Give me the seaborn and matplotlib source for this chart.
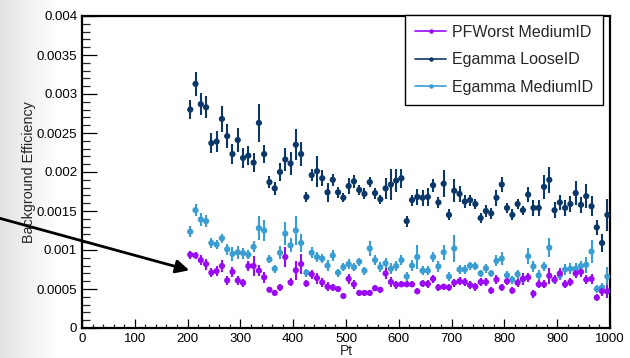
import numpy as np
import pandas as pd
import matplotlib
matplotlib.use("Agg")
import matplotlib.pyplot as plt
import seaborn as sns
from matplotlib.lines import Line2D
from matplotlib.patches import FancyArrowPatch
from matplotlib.ticker import FixedLocator, MultipleLocator, FuncFormatter

# ---------------- data (values in units of 1e-3) ----------------
pt_centers = np.arange(205, 1000, 10)

series_names = ["PFWorst MediumID", "Egamma LooseID", "Egamma MediumID"]

loose_id = [2.80, 3.13, 2.87, 2.83, 2.37, 2.39, 2.68, 2.46, 2.23, 2.41,
            2.18, 2.21, 2.12, 2.63, 2.23, 1.87, 1.79, 2.00, 2.16, 2.11,
            2.35, 2.23, 1.68, 1.96, 2.01, 1.92, 1.74, 1.90, 1.74, 1.67,
            1.82, 1.88, 1.77, 1.72, 1.87, 1.73, 1.65, 1.79, 1.84, 1.89,
            1.92, 1.37, 1.64, 1.68, 1.67, 1.68, 1.83, 1.61, 1.85, 1.45,
            1.76, 1.72, 1.62, 1.64, 1.59, 1.41, 1.50, 1.47, 1.67, 1.84,
            1.54, 1.45, 1.59, 1.51, 1.71, 1.54, 1.54, 1.81, 1.90, 1.51,
            1.61, 1.54, 1.59, 1.73, 1.58, 1.69, 1.56, 1.29, 1.09, 1.45]
loose_err = [0.12, 0.15, 0.14, 0.14, 0.13, 0.13, 0.17, 0.15, 0.13, 0.15,
             0.13, 0.12, 0.12, 0.24, 0.12, 0.08, 0.08, 0.12, 0.15, 0.15,
             0.20, 0.15, 0.06, 0.08, 0.20, 0.10, 0.12, 0.08, 0.07, 0.06,
             0.10, 0.08, 0.06, 0.07, 0.06, 0.07, 0.06, 0.13, 0.20, 0.15,
             0.12, 0.07, 0.07, 0.10, 0.10, 0.12, 0.08, 0.07, 0.17, 0.07,
             0.15, 0.10, 0.08, 0.07, 0.06, 0.07, 0.08, 0.07, 0.10, 0.10,
             0.06, 0.07, 0.06, 0.06, 0.10, 0.10, 0.10, 0.15, 0.17, 0.10,
             0.10, 0.10, 0.10, 0.15, 0.10, 0.15, 0.13, 0.10, 0.12, 0.20]

medium_id = [1.235, 1.51, 1.39, 1.37, 1.09, 1.07, 1.15, 1.01, 0.95, 0.97,
             0.96, 0.94, 1.04, 1.28, 1.25, 0.88, 0.76, 0.965, 1.21, 1.06,
             1.25, 1.09, 0.71, 0.965, 0.91, 0.89, 0.80, 0.93, 0.71, 0.78,
             0.82, 0.78, 0.85, 0.735, 1.02, 0.87, 0.78, 0.83, 0.76, 0.795,
             0.87, 0.66, 0.80, 0.91, 0.735, 0.735, 0.91, 0.79, 0.97, 0.66,
             1.02, 0.75, 0.75, 0.80, 0.79, 0.70, 0.765, 0.70, 0.86, 0.89,
             0.675, 0.62, 0.69, 0.62, 0.92, 0.79, 0.675, 0.79, 1.03, 0.615,
             0.675, 0.75, 0.76, 0.76, 0.795, 0.81, 0.98, 0.50, 0.52, 0.66]
medium_err = [0.07, 0.08, 0.08, 0.08, 0.07, 0.06, 0.06, 0.07, 0.09, 0.08,
              0.07, 0.06, 0.07, 0.15, 0.13, 0.05, 0.05, 0.08, 0.15, 0.09,
              0.18, 0.12, 0.05, 0.07, 0.07, 0.06, 0.07, 0.07, 0.05, 0.05,
              0.06, 0.05, 0.05, 0.05, 0.10, 0.06, 0.06, 0.07, 0.07, 0.07,
              0.06, 0.06, 0.07, 0.15, 0.06, 0.06, 0.06, 0.07, 0.10, 0.06,
              0.17, 0.06, 0.06, 0.05, 0.05, 0.05, 0.06, 0.05, 0.07, 0.08,
              0.05, 0.05, 0.06, 0.05, 0.10, 0.07, 0.07, 0.06, 0.12, 0.05,
              0.06, 0.07, 0.07, 0.07, 0.07, 0.10, 0.15, 0.05, 0.06, 0.12]

pfworst_id = [0.94, 0.93, 0.87, 0.82, 0.71, 0.73, 0.795, 0.61, 0.72, 0.61,
              0.58, 0.795, 0.795, 0.735, 0.65, 0.49, 0.45, 0.52, 0.91, 0.585,
              0.74, 0.82, 0.57, 0.69, 0.64, 0.585, 0.53, 0.52, 0.50, 0.41,
              0.63, 0.56, 0.45, 0.45, 0.45, 0.51, 0.49, 0.70, 0.59, 0.555,
              0.56, 0.56, 0.56, 0.47, 0.57, 0.565, 0.63, 0.52, 0.53, 0.52,
              0.58, 0.60, 0.59, 0.55, 0.53, 0.59, 0.59, 0.48, 0.62, 0.52,
              0.60, 0.48, 0.58, 0.63, 0.65, 0.44, 0.56, 0.56, 0.67, 0.62,
              0.70, 0.56, 0.59, 0.70, 0.72, 0.62, 0.63, 0.39, 0.47, 0.47]
pfworst_err = [0.05, 0.05, 0.06, 0.07, 0.06, 0.06, 0.08, 0.06, 0.06, 0.06,
               0.05, 0.07, 0.13, 0.07, 0.07, 0.03, 0.03, 0.04, 0.13, 0.05,
               0.12, 0.13, 0.04, 0.06, 0.07, 0.06, 0.06, 0.04, 0.04, 0.03,
               0.06, 0.06, 0.04, 0.04, 0.04, 0.04, 0.04, 0.07, 0.06, 0.05,
               0.04, 0.04, 0.04, 0.04, 0.05, 0.05, 0.05, 0.04, 0.04, 0.04,
               0.05, 0.05, 0.05, 0.05, 0.05, 0.05, 0.05, 0.05, 0.06, 0.05,
               0.05, 0.05, 0.05, 0.08, 0.06, 0.05, 0.05, 0.05, 0.10, 0.06,
               0.07, 0.05, 0.05, 0.06, 0.06, 0.06, 0.06, 0.05, 0.06, 0.08]

colors = {"PFWorst MediumID": "#9b0af5",
          "Egamma LooseID": "#0b3868",
          "Egamma MediumID": "#3a9ed2"}

y_ticks = [0, 0.0005, 0.001, 0.0015, 0.002, 0.0025, 0.003, 0.0035, 0.004]
x_ticks = [0, 100, 200, 300, 400, 500, 600, 700, 800, 900, 1000]

# ---------------- build data frame ----------------
frames = []
for name, vals, errs in [("Egamma LooseID", loose_id, loose_err),
                         ("Egamma MediumID", medium_id, medium_err),
                         ("PFWorst MediumID", pfworst_id, pfworst_err)]:
    frames.append(pd.DataFrame({"Pt": pt_centers,
                                "eff": np.array(vals) * 1e-3,
                                "err": np.array(errs) * 1e-3,
                                "series": name}))
df = pd.concat(frames, ignore_index=True)

# ---------------- figure ----------------
sns.set_theme(style="ticks")
plt.rcParams["font.family"] = ["Liberation Sans", "DejaVu Sans"]

fig = plt.figure(figsize=(6.3, 3.58), dpi=100)
fig.patch.set_facecolor("white")

# faint grey backdrop on the far left (slide background)
bg = fig.add_axes([0, 0, 1, 1], zorder=-5)
grad = np.clip(1 - np.linspace(0, 1, 630) / 0.09, 0, 1)
img = np.ones((358, 630, 3))
for c in range(3):
    img[:, :, c] = 1 - 0.11 * grad[None, :]
bg.imshow(img, aspect="auto", extent=[0, 1, 0, 1])
bg.axis("off")

ax = fig.add_axes([82 / 630, 1 - 328 / 358, 528 / 630, 312 / 358])
ax.set_facecolor("white")

for name in ["Egamma LooseID", "Egamma MediumID", "PFWorst MediumID"]:
    sub = df[df["series"] == name]
    ax.errorbar(sub["Pt"], sub["eff"], yerr=sub["err"], xerr=5,
                fmt="none", ecolor=colors[name], elinewidth=1.5,
                capsize=0, zorder=2)
sns.scatterplot(data=df, x="Pt", y="eff", hue="series", palette=colors,
                s=20, linewidth=0, legend=False, ax=ax, zorder=3)

ax.set_xlim(0, 1000)
ax.set_ylim(0, 0.004)
ax.xaxis.set_major_locator(FixedLocator(x_ticks))
ax.xaxis.set_minor_locator(MultipleLocator(20))
ax.yaxis.set_major_locator(FixedLocator(y_ticks))
ax.yaxis.set_minor_locator(MultipleLocator(0.0001))
ax.yaxis.set_major_formatter(FuncFormatter(lambda v, p: "%g" % v))
ax.xaxis.set_major_formatter(FuncFormatter(lambda v, p: "%g" % v))

ax.tick_params(axis="y", which="major", direction="in", length=10.8,
               width=0.9, labelsize=9.5, pad=3.5, colors="black")
ax.tick_params(axis="y", which="minor", direction="in", length=5.4, width=0.9)
ax.tick_params(axis="x", which="major", direction="in", length=6.5,
               width=0.9, labelsize=9.5, pad=3.5, colors="black")
ax.tick_params(axis="x", which="minor", direction="in", length=3.2, width=0.9)

for sp in ax.spines.values():
    sp.set_visible(True)
    sp.set_linewidth(1.6)
    sp.set_color("black")

ax.set_xlabel("Pt", fontsize=10)
ax.set_ylabel("Background Efficiency", fontsize=10.3)
ax.xaxis.set_label_coords(0.5, -0.05)
ax.yaxis.set_label_coords(-0.087, 0.5)

handles = [Line2D([0], [0], color=colors[n], lw=1.2, marker="o",
                  markersize=3.2, markeredgewidth=0) for n in series_names]
leg = ax.legend(handles, series_names, loc="upper right",
                bbox_to_anchor=(0.987, 1.003), borderaxespad=0,
                fontsize=11.5, handlelength=1.9, handletextpad=0.4,
                labelspacing=0.78, borderpad=0.62, fancybox=False,
                framealpha=1, edgecolor="black")
leg.get_frame().set_linewidth(1.0)

# arrow pointing at the PFWorst points
arrow = FancyArrowPatch((-5 / 630, 1 - 217 / 358), (192 / 630, 1 - 271 / 358),
                        transform=fig.transFigure, arrowstyle="-|>",
                        mutation_scale=20, lw=2.0, color="black", zorder=10)
fig.add_artist(arrow)

fig.savefig("out.png", dpi=100)
